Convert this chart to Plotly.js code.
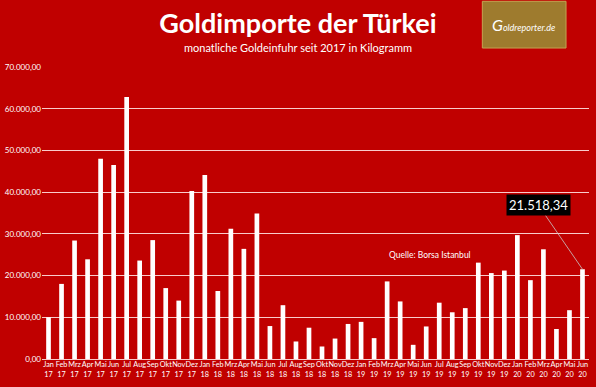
<!DOCTYPE html>
<html>
<head>
<meta charset="utf-8">
<script src="https://cdn.plot.ly/plotly-3.0.1.min.js"></script>
<style>html,body{margin:0;padding:0;background:#C00000;}#chart{width:596px;height:387px;}</style>
</head>
<body>
<div id="chart"></div>
<script>
const months = ["Jan","Feb","Mrz","Apr","Mai","Jun","Jul","Aug","Sep","Okt","Nov","Dez"];
const categories = [];
for (let y = 17; y <= 20; y++) {
  for (let m = 0; m < 12; m++) {
    if (y === 20 && m > 5) break;
    categories.push(months[m] + "<br>" + y);
  }
}
const values = [
  10000, 18000, 28400, 23900, 48000, 46500, 62800, 23600, 28500, 17000, 14000, 40300,
  44100, 16300, 31200, 26400, 34900, 7900, 12900, 4200, 7500, 3000, 4900, 8400,
  8900, 5000, 18600, 13800, 3400, 7800, 13500, 11200, 12200, 23100, 20600, 21200,
  29700, 18900, 26300, 7200, 11700, 21518.34
];
const lastLabel = "21.518,34";

const trace = {
  type: "bar",
  x: categories,
  y: values,
  marker: {color: "#FFFFFF", line: {width: 0}},
  hoverinfo: "skip"
};

const layout = {
  width: 596, height: 387,
  paper_bgcolor: "#C00000",
  plot_bgcolor: "#C00000",
  margin: {l: 42, r: 7, t: 67, b: 28},
  separators: ",.",
  bargap: 0.64,
  showlegend: false,
  font: {family: "Lato, 'Open Sans', sans-serif", color: "#FFFFFF"},
  title: {
    text: "<b>Goldimporte der Türkei</b>",
    font: {family: "Lato, 'Open Sans', sans-serif", size: 27, color: "#FFFFFF"},
    x: 0.5, xanchor: "center", y: 0.938, yanchor: "middle"
  },
  xaxis: {
    type: "category",
    tickfont: {size: 7.3, color: "#FFFFFF", family: "Lato, sans-serif"},
    tickangle: 0,
    showgrid: false, zeroline: false, showline: false, ticks: "",
    fixedrange: true
  },
  yaxis: {
    range: [0, 70000],
    dtick: 10000,
    tickformat: ",.2f",
    tickfont: {size: 8, color: "#FFFFFF", family: "Lato, sans-serif"},
    gridcolor: "rgba(255,225,225,0.9)",
    gridwidth: 1,
    zeroline: true, zerolinecolor: "rgba(255,225,225,0.9)", zerolinewidth: 1,
    showline: false, ticks: "",
    automargin: false,
    fixedrange: true
  },
  shapes: [
    {type: "rect", xref: "paper", yref: "paper", x0: 0.805, x1: 0.958, y0: 1.065, y1: 1.225,
     fillcolor: "#9E7B2E", line: {color: "#C4A352", width: 1}}
  ],
  annotations: [
    {xref: "paper", yref: "paper", x: 0.468, y: 1.067, xanchor: "center", yanchor: "middle",
     text: "monatliche Goldeinfuhr seit 2017 in Kilogramm", showarrow: false,
     font: {size: 11, color: "#FFFFFF", family: "Lato, 'Open Sans', sans-serif"}},
    {xref: "paper", yref: "paper", x: 0.881, y: 1.145, xanchor: "center", yanchor: "middle",
     text: "<i><span style='font-size:16px'>G</span>oldreporter.de</i>", showarrow: false,
     font: {size: 9, color: "#FFFFFF", family: "Lato, sans-serif"}},
    {xref: "x", yref: "y", x: categories[26], y: 25000, xanchor: "left", yanchor: "middle",
     text: "Quelle: Borsa Istanbul", showarrow: false,
     font: {size: 8.5, color: "#FFFFFF", family: "Lato, sans-serif"}},
    {xref: "x", yref: "y", x: categories[41], y: values[41],
     text: lastLabel, showarrow: true, arrowhead: 0, arrowwidth: 0.8, arrowcolor: "#C8C8C8",
     ax: -44, ay: -64, standoff: 0,
     bgcolor: "#000000", borderpad: 2,
     font: {size: 13, color: "#FFFFFF", family: "Lato, 'Open Sans', sans-serif"}}
  ]
};

Plotly.newPlot("chart", [trace], layout, {displayModeBar: false, staticPlot: true});
</script>
</body>
</html>
